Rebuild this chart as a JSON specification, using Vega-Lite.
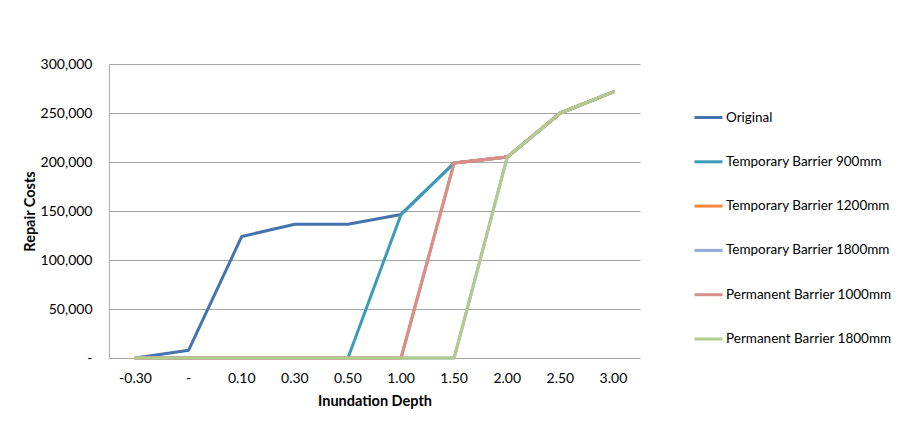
{
  "$schema": "https://vega.github.io/schema/vega-lite/v6.json",
  "autosize": "none",
  "padding": {"left": 109, "top": 64, "right": 271, "bottom": 63},
  "width": 531,
  "height": 294,
  "background": "white",
  "config": {
    "font": "Lato",
    "view": {"stroke": null},
    "axis": {"labelFont": "Lato", "titleFont": "Lato", "labelColor": "#000000", "titleColor": "#000000"}
  },
  "data": {
    "values": [
      {"depth": "-0.30", "series": "Original", "cost": 0},
      {"depth": "-", "series": "Original", "cost": 8000},
      {"depth": "0.10", "series": "Original", "cost": 124000},
      {"depth": "0.30", "series": "Original", "cost": 136500},
      {"depth": "0.50", "series": "Original", "cost": 136500},
      {"depth": "1.00", "series": "Original", "cost": 146500},
      {"depth": "1.50", "series": "Original", "cost": 199000},
      {"depth": "2.00", "series": "Original", "cost": 205000},
      {"depth": "2.50", "series": "Original", "cost": 250000},
      {"depth": "3.00", "series": "Original", "cost": 271500},

      {"depth": "-0.30", "series": "Temporary Barrier 900mm", "cost": 0},
      {"depth": "-", "series": "Temporary Barrier 900mm", "cost": 0},
      {"depth": "0.10", "series": "Temporary Barrier 900mm", "cost": 0},
      {"depth": "0.30", "series": "Temporary Barrier 900mm", "cost": 0},
      {"depth": "0.50", "series": "Temporary Barrier 900mm", "cost": 0},
      {"depth": "1.00", "series": "Temporary Barrier 900mm", "cost": 146500},
      {"depth": "1.50", "series": "Temporary Barrier 900mm", "cost": 199000},
      {"depth": "2.00", "series": "Temporary Barrier 900mm", "cost": 205000},
      {"depth": "2.50", "series": "Temporary Barrier 900mm", "cost": 250000},
      {"depth": "3.00", "series": "Temporary Barrier 900mm", "cost": 271500},

      {"depth": "-0.30", "series": "Temporary Barrier 1200mm", "cost": 0},
      {"depth": "-", "series": "Temporary Barrier 1200mm", "cost": 0},
      {"depth": "0.10", "series": "Temporary Barrier 1200mm", "cost": 0},
      {"depth": "0.30", "series": "Temporary Barrier 1200mm", "cost": 0},
      {"depth": "0.50", "series": "Temporary Barrier 1200mm", "cost": 0},
      {"depth": "1.00", "series": "Temporary Barrier 1200mm", "cost": 0},
      {"depth": "1.50", "series": "Temporary Barrier 1200mm", "cost": 199000},
      {"depth": "2.00", "series": "Temporary Barrier 1200mm", "cost": 205000},
      {"depth": "2.50", "series": "Temporary Barrier 1200mm", "cost": 250000},
      {"depth": "3.00", "series": "Temporary Barrier 1200mm", "cost": 271500},

      {"depth": "-0.30", "series": "Temporary Barrier 1800mm", "cost": 0},
      {"depth": "-", "series": "Temporary Barrier 1800mm", "cost": 0},
      {"depth": "0.10", "series": "Temporary Barrier 1800mm", "cost": 0},
      {"depth": "0.30", "series": "Temporary Barrier 1800mm", "cost": 0},
      {"depth": "0.50", "series": "Temporary Barrier 1800mm", "cost": 0},
      {"depth": "1.00", "series": "Temporary Barrier 1800mm", "cost": 0},
      {"depth": "1.50", "series": "Temporary Barrier 1800mm", "cost": 0},
      {"depth": "2.00", "series": "Temporary Barrier 1800mm", "cost": 205000},
      {"depth": "2.50", "series": "Temporary Barrier 1800mm", "cost": 250000},
      {"depth": "3.00", "series": "Temporary Barrier 1800mm", "cost": 271500},

      {"depth": "-0.30", "series": "Permanent Barrier 1000mm", "cost": 0},
      {"depth": "-", "series": "Permanent Barrier 1000mm", "cost": 0},
      {"depth": "0.10", "series": "Permanent Barrier 1000mm", "cost": 0},
      {"depth": "0.30", "series": "Permanent Barrier 1000mm", "cost": 0},
      {"depth": "0.50", "series": "Permanent Barrier 1000mm", "cost": 0},
      {"depth": "1.00", "series": "Permanent Barrier 1000mm", "cost": 0},
      {"depth": "1.50", "series": "Permanent Barrier 1000mm", "cost": 199000},
      {"depth": "2.00", "series": "Permanent Barrier 1000mm", "cost": 205000},
      {"depth": "2.50", "series": "Permanent Barrier 1000mm", "cost": 250000},
      {"depth": "3.00", "series": "Permanent Barrier 1000mm", "cost": 271500},

      {"depth": "-0.30", "series": "Permanent Barrier 1800mm", "cost": 0},
      {"depth": "-", "series": "Permanent Barrier 1800mm", "cost": 0},
      {"depth": "0.10", "series": "Permanent Barrier 1800mm", "cost": 0},
      {"depth": "0.30", "series": "Permanent Barrier 1800mm", "cost": 0},
      {"depth": "0.50", "series": "Permanent Barrier 1800mm", "cost": 0},
      {"depth": "1.00", "series": "Permanent Barrier 1800mm", "cost": 0},
      {"depth": "1.50", "series": "Permanent Barrier 1800mm", "cost": 0},
      {"depth": "2.00", "series": "Permanent Barrier 1800mm", "cost": 205000},
      {"depth": "2.50", "series": "Permanent Barrier 1800mm", "cost": 250000},
      {"depth": "3.00", "series": "Permanent Barrier 1800mm", "cost": 271500}
    ]
  },
  "mark": {"type": "line", "strokeWidth": 3, "strokeCap": "round", "strokeJoin": "round"},
  "encoding": {
    "x": {
      "field": "depth",
      "type": "ordinal",
      "sort": null,
      "scale": {"type": "band", "paddingInner": 0, "paddingOuter": 0},
      "axis": {
        "title": "Inundation Depth",
        "titleFontSize": 14.5,
        "titleFontWeight": "bold",
        "titlePadding": 9,
        "labelAngle": 0,
        "labelFontSize": 14,
        "labelPadding": 13,
        "ticks": false,
        "domain": false,
        "grid": false
      }
    },
    "y": {
      "field": "cost",
      "type": "quantitative",
      "scale": {"domain": [0, 300000], "nice": false},
      "axis": {
        "title": "Repair Costs",
        "titleFontSize": 14.5,
        "titleFontWeight": "bold",
        "titlePadding": 3,
        "values": [0, 50000, 100000, 150000, 200000, 250000, 300000],
        "labelExpr": "datum.value == 0 ? '-' : format(datum.value, ',')",
        "labelFontSize": 14,
        "labelPadding": 17,
        "ticks": false,
        "domain": true,
        "domainColor": "#b0b0b0",
        "domainWidth": 1,
        "grid": true,
        "gridColor": "#a6a6a6",
        "gridWidth": 1
      }
    },
    "color": {
      "field": "series",
      "type": "nominal",
      "sort": null,
      "scale": {
        "domain": ["Original", "Temporary Barrier 900mm", "Temporary Barrier 1200mm", "Temporary Barrier 1800mm", "Permanent Barrier 1000mm", "Permanent Barrier 1800mm"],
        "range": ["#4672ad", "#3d9bb6", "#f08a3c", "#92aad6", "#d88e8b", "#b3cc8d"]
      },
      "legend": {
        "title": null,
        "orient": "none",
        "legendX": 584,
        "legendY": 38,
        "symbolType": "stroke",
        "symbolSize": 784,
        "symbolStrokeWidth": 3,
        "labelFontSize": 13.5,
        "labelOffset": 2,
        "labelLimit": 300,
        "rowPadding": 22.3,
        "labelColor": "#000000"
      }
    }
  }
}
